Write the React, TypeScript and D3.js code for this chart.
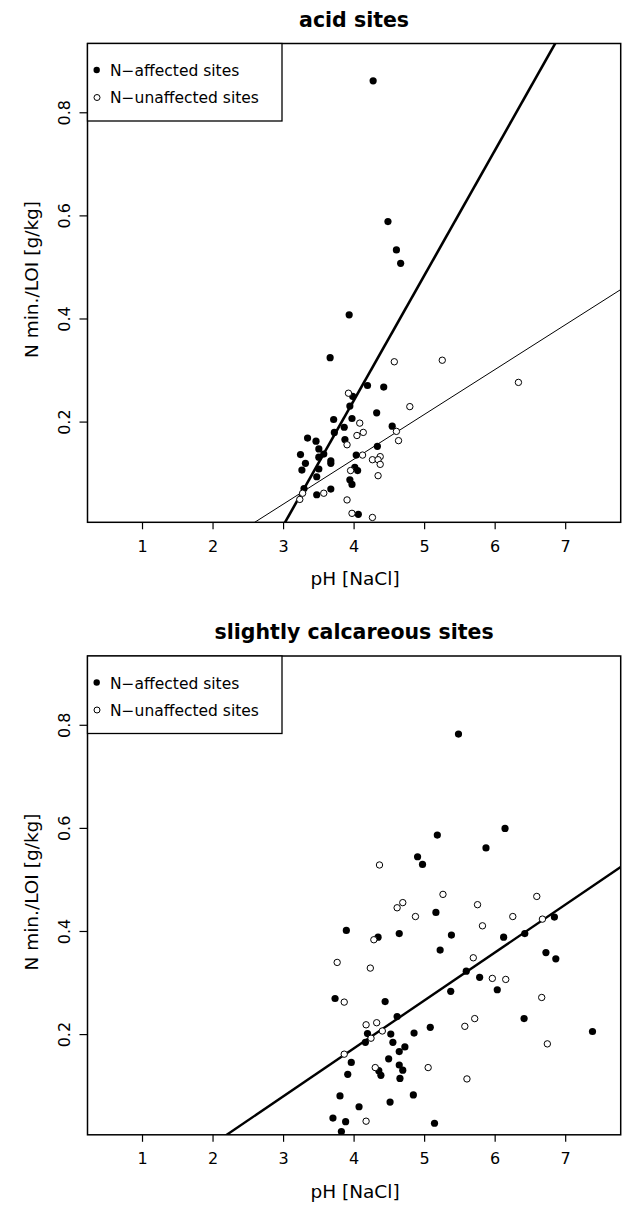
import React from 'react';
import { scaleLinear, line } from 'd3';

// acid sites
const acidAffectedPH = [4.27, 4.48, 4.60, 4.66, 3.93, 3.66, 4.19, 4.42, 3.98, 3.94, 4.32, 3.71, 3.97, 3.86, 3.72, 4.54, 3.34, 3.46, 3.87, 3.50, 3.57, 4.33, 3.24, 3.31, 3.50, 3.67, 3.67, 4.03, 3.26, 3.50, 3.47, 4.01, 4.05, 3.94, 3.97, 3.29, 3.47, 3.67, 4.06];
const acidAffectedN = [0.862, 0.589, 0.534, 0.508, 0.408, 0.325, 0.271, 0.268, 0.250, 0.231, 0.218, 0.205, 0.207, 0.190, 0.180, 0.192, 0.169, 0.163, 0.166, 0.148, 0.138, 0.153, 0.137, 0.120, 0.132, 0.125, 0.120, 0.136, 0.107, 0.109, 0.094, 0.112, 0.106, 0.088, 0.079, 0.071, 0.059, 0.070, 0.021];
const acidUnaffectedPH = [4.57, 5.25, 6.33, 3.92, 4.79, 4.08, 4.13, 4.04, 4.60, 4.63, 3.90, 4.12, 4.26, 4.37, 4.34, 4.37, 3.95, 4.34, 3.27, 3.23, 3.57, 3.90, 3.97, 4.26];
const acidUnaffectedN = [0.317, 0.320, 0.277, 0.256, 0.230, 0.198, 0.180, 0.174, 0.182, 0.164, 0.156, 0.136, 0.127, 0.133, 0.127, 0.118, 0.106, 0.096, 0.062, 0.050, 0.062, 0.049, 0.023, 0.015];

// slightly calcareous sites
const calcAffectedPH = [5.48, 6.14, 5.18, 5.87, 4.90, 4.97, 5.16, 6.84, 3.89, 4.64, 4.34, 5.38, 6.12, 6.42, 5.22, 6.72, 6.86, 5.59, 5.78, 6.03, 5.37, 3.73, 4.44, 4.61, 6.41, 5.08, 7.38, 4.19, 4.52, 4.85, 4.16, 4.55, 4.72, 4.64, 3.96, 4.49, 4.64, 4.35, 4.69, 3.91, 4.38, 4.65, 3.80, 4.84, 4.07, 4.51, 3.70, 3.88, 5.14, 3.82];
const calcAffectedN = [0.783, 0.600, 0.587, 0.562, 0.545, 0.530, 0.437, 0.428, 0.402, 0.396, 0.389, 0.393, 0.389, 0.396, 0.364, 0.359, 0.347, 0.323, 0.311, 0.287, 0.284, 0.270, 0.264, 0.235, 0.231, 0.214, 0.206, 0.202, 0.201, 0.203, 0.185, 0.185, 0.176, 0.167, 0.146, 0.153, 0.141, 0.130, 0.131, 0.123, 0.121, 0.115, 0.081, 0.083, 0.060, 0.069, 0.038, 0.031, 0.028, 0.012];
const calcUnaffectedPH = [4.36, 5.26, 6.59, 4.69, 4.61, 5.75, 4.87, 6.67, 6.25, 5.82, 4.28, 3.76, 5.69, 4.23, 5.96, 6.15, 6.66, 3.86, 5.71, 4.32, 4.17, 5.57, 4.40, 4.24, 6.74, 3.86, 4.30, 5.05, 5.60, 4.17];
const calcUnaffectedN = [0.529, 0.472, 0.468, 0.456, 0.446, 0.452, 0.429, 0.424, 0.429, 0.411, 0.384, 0.340, 0.349, 0.329, 0.309, 0.307, 0.272, 0.263, 0.231, 0.223, 0.219, 0.216, 0.207, 0.193, 0.182, 0.162, 0.136, 0.136, 0.114, 0.032];

// regression lines [intercept, slope]
const acidAffectedFit = [-0.727, 0.2425];
const acidUnaffectedFit = [-0.2198, 0.087];
const calcFit = [-0.1984, 0.093];

const xTicks = [1, 2, 3, 4, 5, 6, 7];
const yTicks = [0.2, 0.4, 0.6, 0.8];
const legendLabels = ['N\u2212affected sites', 'N\u2212unaffected sites'];

const FONT = '"DejaVu Sans", sans-serif';

function Panel({ id, top, title, affPH, affN, unPH, unN, fits }) {
  const left = 87.5, right = 620.7;
  const plotTop = top, plotBottom = top + 478.8;
  const x = scaleLinear().domain([0.22, 7.78]).range([left, right]);
  const y = scaleLinear().domain([0.0056, 0.9344]).range([plotBottom, plotTop]);
  const fitLine = line().x(d => x(d[0])).y(d => y(d[1]));
  const [x0, x1] = x.domain();

  return (
    <g>
      <defs>
        <clipPath id={id}>
          <rect x={left} y={plotTop} width={right - left} height={plotBottom - plotTop} />
        </clipPath>
      </defs>
      <text x={(left + right) / 2} y={top - 17} textAnchor="middle" fontFamily={FONT} fontWeight="bold" fontSize={20.5}>{title}</text>

      <g clipPath={`url(#${id})`}>
        {fits.map((f, i) => (
          <path key={i} d={fitLine([[x0, f.c[0] + f.c[1] * x0], [x1, f.c[0] + f.c[1] * x1]])}
            fill="none" stroke="#000" strokeWidth={f.w} />
        ))}
      </g>

      {affPH.map((v, i) => (
        <circle key={'a' + i} cx={x(v)} cy={y(affN[i])} r={3.6} fill="#000" />
      ))}
      {unPH.map((v, i) => (
        <circle key={'u' + i} cx={x(v)} cy={y(unN[i])} r={3.2} fill="#fff" stroke="#000" strokeWidth={1} />
      ))}

      <rect x={left} y={plotTop} width={right - left} height={plotBottom - plotTop} fill="none" stroke="#000" strokeWidth={1.5} />

      {xTicks.map(t => (
        <g key={t}>
          <line x1={x(t)} x2={x(t)} y1={plotBottom} y2={plotBottom + 7} stroke="#000" strokeWidth={1.2} />
          <text x={x(t)} y={plotBottom + 29.5} textAnchor="middle" fontFamily={FONT} fontSize={16}>{t}</text>
        </g>
      ))}
      {yTicks.map(t => (
        <g key={t}>
          <line x1={left - 8} x2={left} y1={y(t)} y2={y(t)} stroke="#000" strokeWidth={1.2} />
          <text transform={`translate(70,${y(t)}) rotate(-90)`} textAnchor="middle" fontFamily={FONT} fontSize={16}>{t.toFixed(1)}</text>
        </g>
      ))}

      <text x={355} y={plotBottom + 62.7} textAnchor="middle" fontFamily={FONT} fontSize={18.5}>pH [NaCl]</text>
      <text transform={`translate(38,${plotTop + 236}) rotate(-90)`} textAnchor="middle" fontFamily={FONT} fontSize={18.5}>N min./LOI [g/kg]</text>

      <rect x={left} y={plotTop} width={194.5} height={77.5} fill="#fff" stroke="#000" strokeWidth={1.3} />
      <circle cx={96.7} cy={plotTop + 26.5} r={3.2} fill="#000" />
      <circle cx={97} cy={plotTop + 54} r={3} fill="#fff" stroke="#000" strokeWidth={1} />
      <text x={110} y={plotTop + 32.5} fontFamily={FONT} fontSize={15.5}>{legendLabels[0]}</text>
      <text x={110} y={plotTop + 59.5} fontFamily={FONT} fontSize={15.5}>{legendLabels[1]}</text>
    </g>
  );
}

export default function App() {
  return (
    <svg width={624} height={1205} style={{ position: 'absolute', left: 0, top: 0, background: '#fff' }}>
      <rect width={624} height={1205} fill="#fff" />
      <Panel id="clipA" top={43.5} title="acid sites"
        affPH={acidAffectedPH} affN={acidAffectedN} unPH={acidUnaffectedPH} unN={acidUnaffectedN}
        fits={[{ c: acidAffectedFit, w: 2.6 }, { c: acidUnaffectedFit, w: 1 }]} />
      <Panel id="clipB" top={656} title="slightly calcareous sites"
        affPH={calcAffectedPH} affN={calcAffectedN} unPH={calcUnaffectedPH} unN={calcUnaffectedN}
        fits={[{ c: calcFit, w: 2.4 }]} />
    </svg>
  );
}
